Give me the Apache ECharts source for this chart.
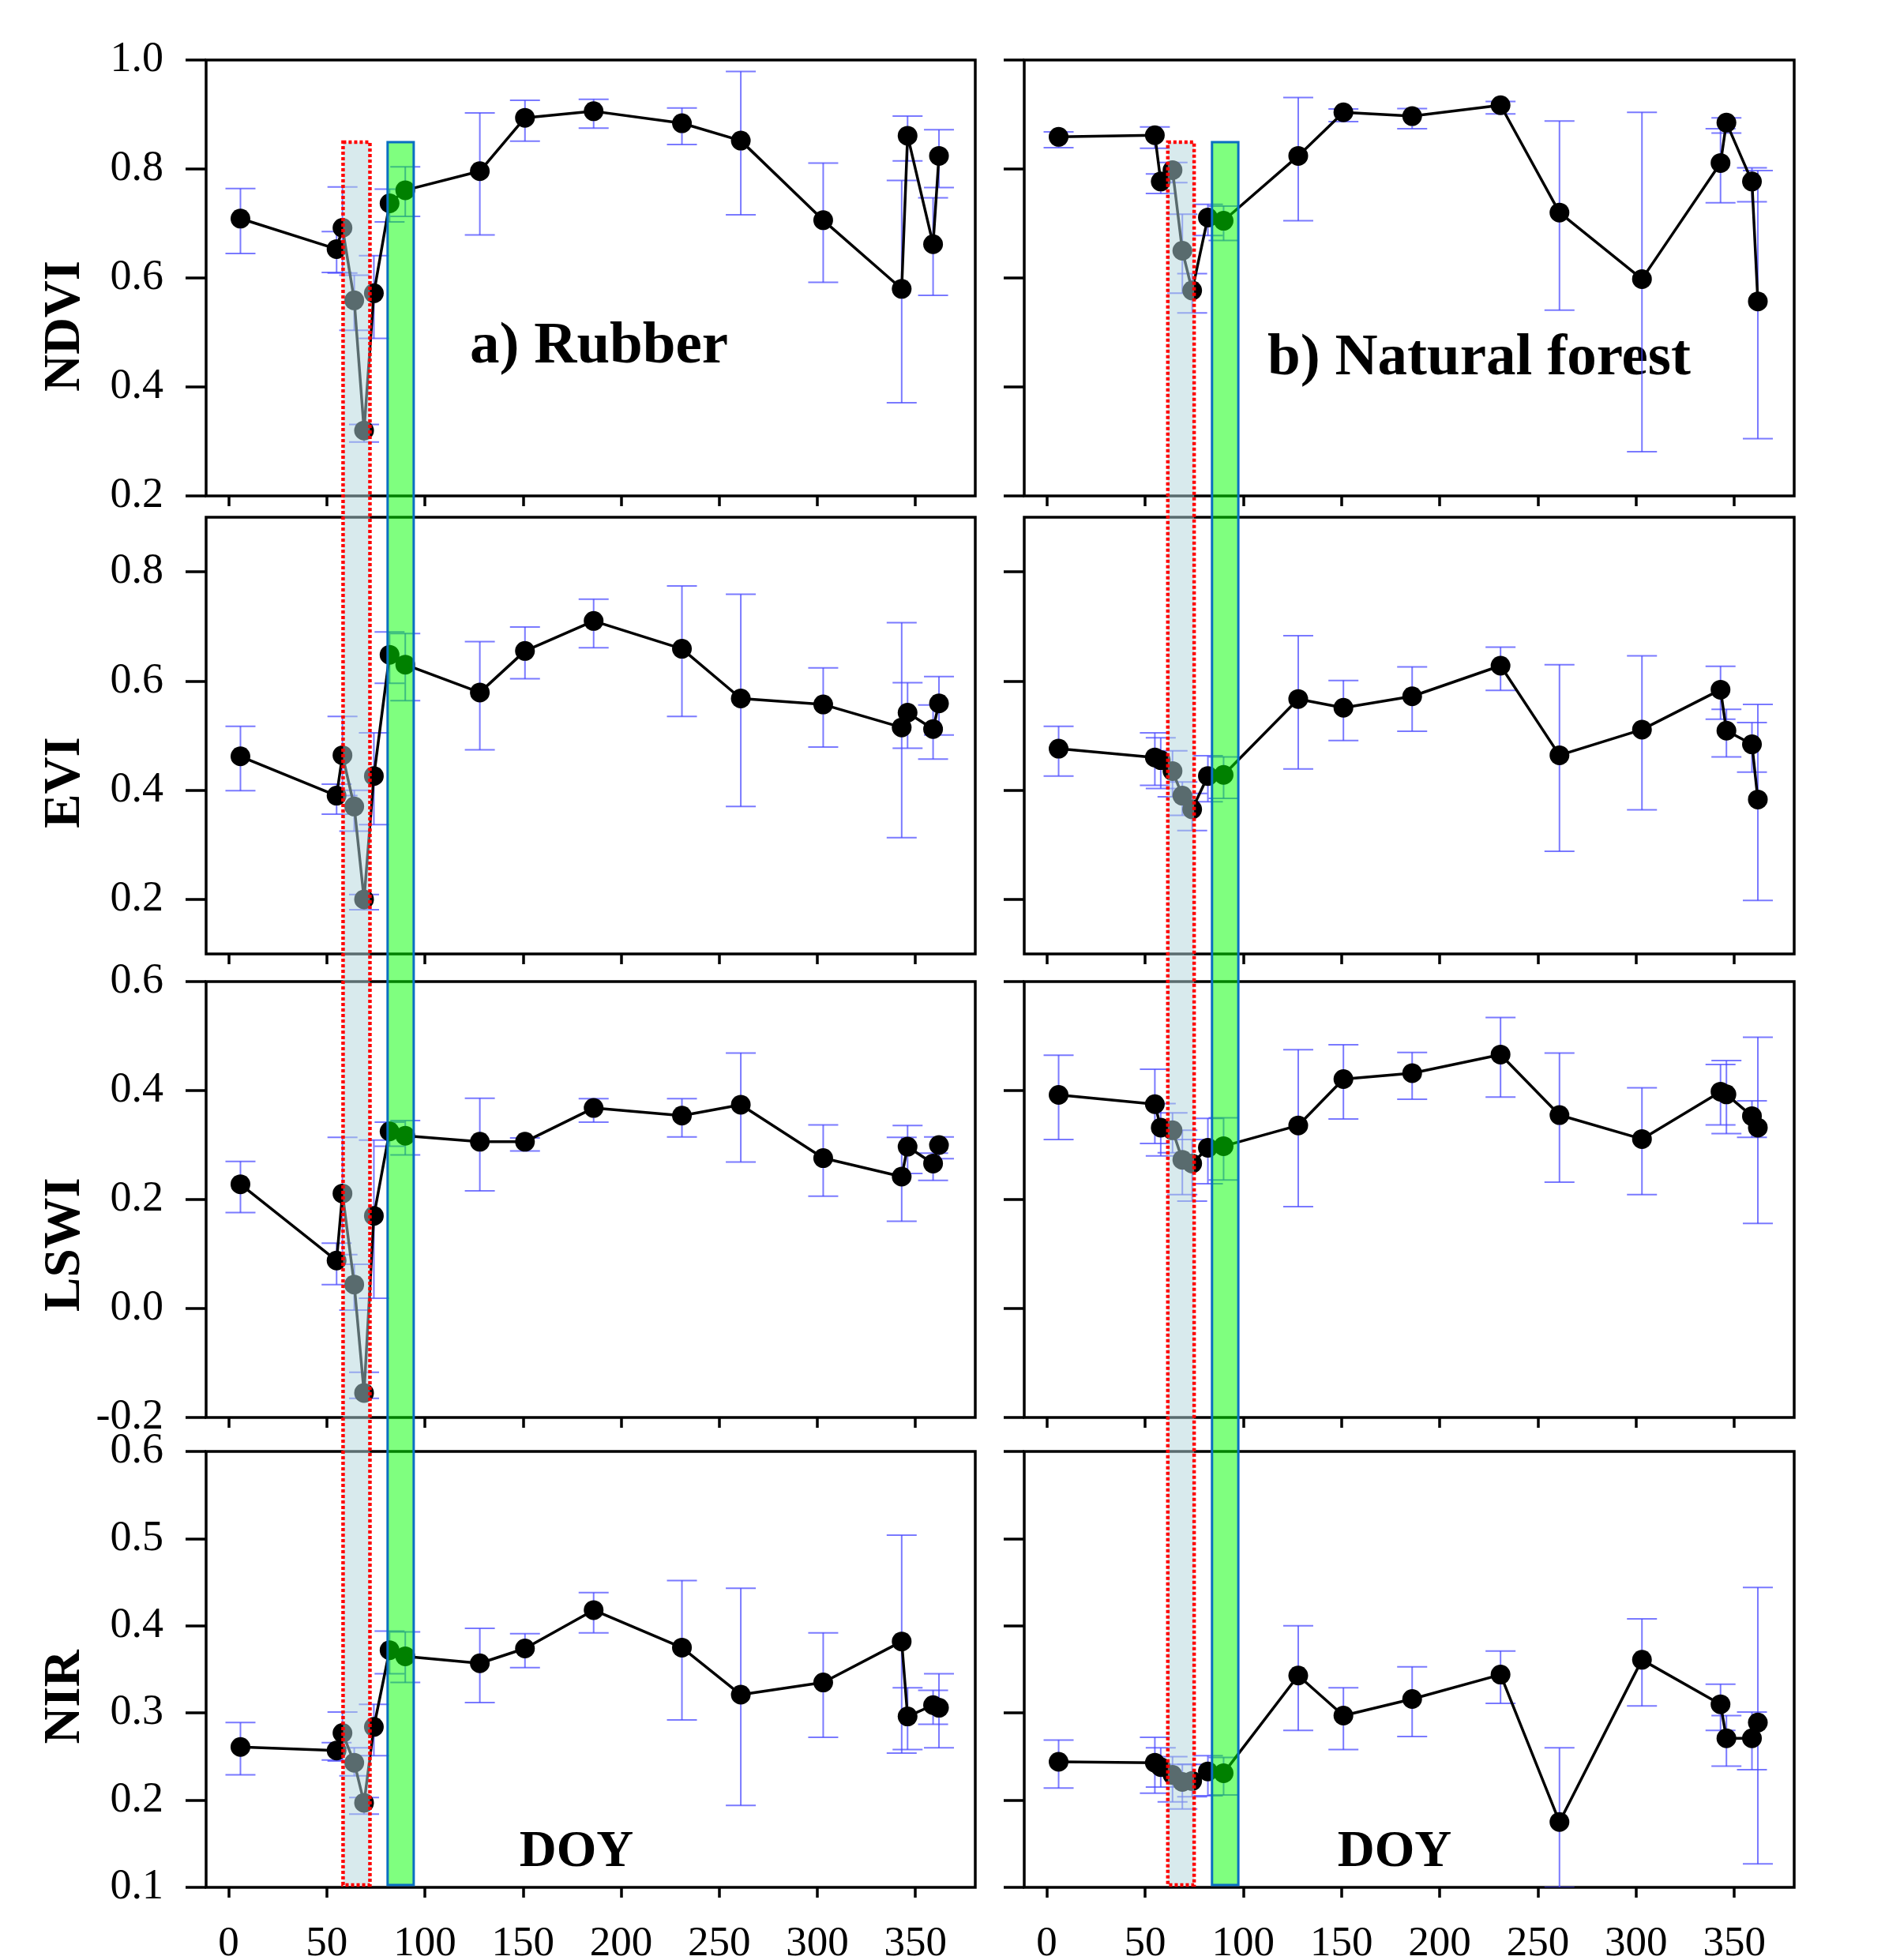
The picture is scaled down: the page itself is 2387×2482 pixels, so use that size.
<!DOCTYPE html>
<html>
<head>
<meta charset="utf-8">
<script src="https://cdn.jsdelivr.net/npm/echarts@6/dist/echarts.min.js"></script>
<style>
  html, body { margin: 0; padding: 0; background: #fff; }
  #chart { width: 2387px; height: 2482px; }
</style>
</head>
<body>
<div id="chart"></div>
<script>
// day of year of each scene (same for both panels)
const doy = [6, 55, 58, 64, 69, 74, 82, 90, 128, 151, 186, 231, 261, 303, 343, 346, 359, 362];

const xTicks = [0, 50, 100, 150, 200, 250, 300, 350];
const ndviTicks = [0.2, 0.4, 0.6, 0.8, 1.0];
const eviTicks = [0.2, 0.4, 0.6, 0.8];
const lswiTicks = [-0.2, 0.0, 0.2, 0.4, 0.6];
const nirTicks = [0.1, 0.2, 0.3, 0.4, 0.5, 0.6];

// a) Rubber
const rubberNdvi   = [0.709, 0.653, 0.692, 0.559, 0.320, 0.572, 0.737, 0.761, 0.796, 0.894, 0.906, 0.884, 0.852, 0.706, 0.580, 0.861, 0.662, 0.824];
const rubberNdviLo = [0.645, 0.610, 0.609, 0.504, 0.299, 0.489, 0.703, 0.713, 0.679, 0.851, 0.875, 0.845, 0.716, 0.592, 0.371, 0.815, 0.568, 0.766];
const rubberNdviHi = [0.764, 0.685, 0.767, 0.605, 0.331, 0.641, 0.763, 0.804, 0.903, 0.926, 0.928, 0.912, 0.979, 0.811, 0.779, 0.897, 0.747, 0.872];

const rubberEvi   = [0.462, 0.390, 0.464, 0.370, 0.200, 0.426, 0.648, 0.630, 0.579, 0.655, 0.710, 0.659, 0.568, 0.557, 0.515, 0.542, 0.512, 0.559];
const rubberEviLo = [0.399, 0.356, 0.390, 0.325, 0.181, 0.337, 0.596, 0.564, 0.474, 0.604, 0.661, 0.535, 0.370, 0.479, 0.313, 0.477, 0.457, 0.501];
const rubberEviHi = [0.517, 0.411, 0.535, 0.400, 0.209, 0.505, 0.690, 0.687, 0.672, 0.699, 0.750, 0.774, 0.759, 0.624, 0.707, 0.597, 0.556, 0.608];

const rubberLswi   = [0.228, 0.088, 0.211, 0.044, -0.155, 0.170, 0.325, 0.317, 0.306, 0.306, 0.368, 0.354, 0.374, 0.276, 0.242, 0.297, 0.266, 0.300];
const rubberLswiLo = [0.176, 0.044, 0.099, -0.003, -0.165, 0.019, 0.298, 0.282, 0.216, 0.289, 0.342, 0.315, 0.269, 0.206, 0.160, 0.248, 0.235, 0.275];
const rubberLswiHi = [0.270, 0.120, 0.314, 0.081, -0.117, 0.309, 0.342, 0.345, 0.386, 0.313, 0.385, 0.385, 0.469, 0.337, 0.314, 0.336, 0.285, 0.315];

const rubberNir   = [0.261, 0.257, 0.277, 0.243, 0.197, 0.284, 0.372, 0.365, 0.357, 0.374, 0.418, 0.375, 0.321, 0.335, 0.382, 0.296, 0.309, 0.306];
const rubberNirLo = [0.229, 0.246, 0.245, 0.228, 0.184, 0.251, 0.345, 0.335, 0.312, 0.352, 0.392, 0.292, 0.194, 0.272, 0.254, 0.258, 0.287, 0.260];
const rubberNirHi = [0.289, 0.266, 0.301, 0.260, 0.203, 0.310, 0.394, 0.393, 0.397, 0.391, 0.438, 0.452, 0.443, 0.392, 0.504, 0.329, 0.326, 0.345];

// b) Natural forest
const forestNdvi   = [0.859, 0.862, 0.777, 0.798, 0.650, 0.577, 0.711, 0.705, 0.824, 0.904, 0.897, 0.917, 0.720, 0.598, 0.811, 0.885, 0.777, 0.557];
const forestNdviLo = [0.839, 0.838, 0.755, 0.775, 0.572, 0.536, 0.678, 0.669, 0.705, 0.887, 0.874, 0.901, 0.541, 0.281, 0.738, 0.866, 0.740, 0.305];
const forestNdviHi = [0.868, 0.877, 0.791, 0.812, 0.717, 0.608, 0.735, 0.732, 0.931, 0.910, 0.911, 0.924, 0.888, 0.904, 0.874, 0.894, 0.802, 0.797];

const forestEvi   = [0.476, 0.460, 0.455, 0.435, 0.390, 0.365, 0.426, 0.428, 0.567, 0.551, 0.572, 0.628, 0.464, 0.511, 0.584, 0.509, 0.484, 0.383];
const forestEviLo = [0.426, 0.409, 0.403, 0.388, 0.354, 0.326, 0.379, 0.385, 0.439, 0.491, 0.508, 0.583, 0.288, 0.364, 0.530, 0.461, 0.433, 0.198];
const forestEviHi = [0.517, 0.505, 0.496, 0.472, 0.415, 0.394, 0.463, 0.461, 0.683, 0.601, 0.626, 0.662, 0.630, 0.646, 0.627, 0.548, 0.524, 0.557];

const forestLswi   = [0.392, 0.375, 0.332, 0.327, 0.273, 0.266, 0.295, 0.298, 0.336, 0.421, 0.432, 0.466, 0.355, 0.311, 0.398, 0.393, 0.353, 0.332];
const forestLswiLo = [0.310, 0.303, 0.280, 0.286, 0.209, 0.197, 0.229, 0.236, 0.187, 0.348, 0.384, 0.388, 0.232, 0.209, 0.337, 0.321, 0.314, 0.156];
const forestLswiHi = [0.465, 0.439, 0.376, 0.359, 0.327, 0.310, 0.349, 0.350, 0.475, 0.484, 0.470, 0.534, 0.469, 0.405, 0.448, 0.455, 0.381, 0.498];

const forestNir   = [0.244, 0.243, 0.238, 0.229, 0.221, 0.222, 0.233, 0.231, 0.343, 0.297, 0.316, 0.344, 0.175, 0.361, 0.310, 0.271, 0.271, 0.289];
const forestNirLo = [0.214, 0.208, 0.215, 0.198, 0.190, 0.204, 0.205, 0.206, 0.280, 0.258, 0.273, 0.311, 0.100, 0.308, 0.280, 0.239, 0.235, 0.127];
const forestNirHi = [0.269, 0.272, 0.260, 0.250, 0.241, 0.241, 0.251, 0.249, 0.400, 0.329, 0.353, 0.371, 0.260, 0.408, 0.333, 0.297, 0.301, 0.444];

// shaded DOY windows [start, end, kind] kind 0 = defoliation, 1 = green-up
const rubberBands = [[58.3, 72.0, 0], [81.0, 94.3, 1]];
const forestBands = [[61.6, 75.0, 0], [84.1, 97.5, 1]];

const rowNames = ["NDVI", "EVI", "LSWI", "NIR"];
const rowAxes = [
  { min: 0.2, max: 1.0, ticks: ndviTicks },
  { min: 0.1, max: 0.9, ticks: eviTicks },
  { min: -0.2, max: 0.6, ticks: lswiTicks },
  { min: 0.1, max: 0.6, ticks: nirTicks }
];
const panels = [
  [rubberNdvi, rubberNdviLo, rubberNdviHi], [forestNdvi, forestNdviLo, forestNdviHi],
  [rubberEvi, rubberEviLo, rubberEviHi],    [forestEvi, forestEviLo, forestEviHi],
  [rubberLswi, rubberLswiLo, rubberLswiHi], [forestLswi, forestLswiLo, forestLswiHi],
  [rubberNir, rubberNirLo, rubberNirHi],    [forestNir, forestNirLo, forestNirHi]
];

const rowTop = [76, 655, 1243, 1838];
const rowHeight = [552, 553, 552, 552];
const colLeft = [261, 1297];
const colWidth = [974, 975];
const xMin = -11.5;
const xMax = 380.5;
const serif = "Liberation Serif";

function renderErrorBar(params, api) {
  const x = api.value(0);
  const lo = api.coord([x, api.value(1)]);
  const hi = api.coord([x, api.value(2)]);
  const half = 19;
  const style = { stroke: "rgba(70, 70, 255, 0.72)", lineWidth: 2, fill: null };
  return {
    type: "group",
    children: [
      { type: "line", shape: { x1: hi[0], y1: hi[1], x2: lo[0], y2: lo[1] }, style: style },
      { type: "line", shape: { x1: hi[0] - half, y1: hi[1], x2: hi[0] + half, y2: hi[1] }, style: style },
      { type: "line", shape: { x1: lo[0] - half, y1: lo[1], x2: lo[0] + half, y2: lo[1] }, style: style }
    ]
  };
}

function renderBand(params, api) {
  const p0 = api.coord([api.value(0), 1]);
  const p1 = api.coord([api.value(1), 0]);
  const shape = { x: p0[0], y: p0[1], width: p1[0] - p0[0], height: p1[1] - p0[1] };
  if (api.value(2) === 0) {
    return {
      type: "group",
      children: [
        { type: "rect", shape: shape, style: { fill: "rgba(178, 214, 220, 0.5)", stroke: null } },
        { type: "rect", shape: shape, style: { fill: null, stroke: "#ff0000", lineWidth: 4.5, lineDash: [4, 3] } }
      ]
    };
  }
  return {
    type: "rect",
    shape: shape,
    style: { fill: "rgba(0, 255, 0, 0.5)", stroke: "#0a6fc2", lineWidth: 3 }
  };
}

const grids = [];
const xAxes = [];
const yAxes = [];
const series = [];

panels.forEach(function (p, i) {
  const row = Math.floor(i / 2);
  const col = i % 2;
  const ax = rowAxes[row];
  grids.push({
    left: colLeft[col], top: rowTop[row], width: colWidth[col], height: rowHeight[row],
    show: true, borderColor: "#000", borderWidth: 3.5, backgroundColor: "transparent",
    outerBoundsMode: "none", containLabel: false
  });
  xAxes.push({
    gridIndex: i, type: "value", min: xMin, max: xMax,
    axisLine: { show: false, onZero: false },
    splitLine: { show: false },
    axisTick: { show: true, customValues: xTicks, length: 13, lineStyle: { color: "#000", width: 3.5 } },
    axisLabel: {
      show: row === 3, customValues: xTicks, margin: 46,
      fontFamily: serif, fontSize: 53, color: "#000"
    }
  });
  yAxes.push({
    gridIndex: i, type: "value", min: ax.min, max: ax.max,
    axisLine: { show: false, onZero: false },
    splitLine: { show: false },
    axisTick: { show: true, customValues: ax.ticks, length: 26, lineStyle: { color: "#000", width: 3.5 } },
    axisLabel: {
      show: col === 0, customValues: ax.ticks, margin: 54,
      fontFamily: serif, fontSize: 54, color: "#000",
      formatter: function (v) { return Number(v).toFixed(1); }
    }
  });
  series.push({
    type: "custom", xAxisIndex: i, yAxisIndex: i, z: 2, clip: true,
    renderItem: renderErrorBar,
    encode: { x: 0, y: [1, 2] },
    data: doy.map(function (d, k) { return [d, p[1][k], p[2][k]]; })
  });
  series.push({
    type: "line", xAxisIndex: i, yAxisIndex: i, z: 3,
    symbol: "circle", symbolSize: 25,
    itemStyle: { color: "#000" },
    lineStyle: { color: "#000", width: 3.5 },
    data: doy.map(function (d, k) { return [d, p[0][k]]; })
  });
});

// overlay grids for the shaded windows spanning all four rows
[rubberBands, forestBands].forEach(function (bands, col) {
  const gi = grids.length;
  grids.push({
    left: colLeft[col], top: 180, width: colWidth[col], height: 2207,
    show: false, outerBoundsMode: "none", containLabel: false
  });
  xAxes.push({ gridIndex: gi, type: "value", min: xMin, max: xMax, show: false });
  yAxes.push({ gridIndex: gi, type: "value", min: 0, max: 1, show: false });
  series.push({
    type: "custom", xAxisIndex: gi, yAxisIndex: gi, z: 20,
    renderItem: renderBand,
    encode: { x: [0, 1], y: 2 },
    data: bands
  });
});

const labelCenters = [413, 991, 1576, 2149];
const graphics = rowNames.map(function (name, r) {
  return {
    type: "text", x: 83, y: labelCenters[r], rotation: Math.PI / 2,
    style: { text: name, font: "bold 65px \"" + serif + "\"", fill: "#000", align: "center", verticalAlign: "middle" }
  };
});
graphics.push(
  { type: "text", x: 595, y: 440, style: { text: "a) Rubber", font: "bold 75px \"" + serif + "\"", fill: "#000", align: "left", verticalAlign: "middle" } },
  { type: "text", x: 1605, y: 455, style: { text: "b) Natural forest", font: "bold 75px \"" + serif + "\"", fill: "#000", align: "left", verticalAlign: "middle" } },
  { type: "text", x: 730, y: 2346, style: { text: "DOY", font: "bold 65px \"" + serif + "\"", fill: "#000", align: "center", verticalAlign: "middle" } },
  { type: "text", x: 1766, y: 2346, style: { text: "DOY", font: "bold 65px \"" + serif + "\"", fill: "#000", align: "center", verticalAlign: "middle" } }
);

const chart = echarts.init(document.getElementById("chart"), null, { renderer: "canvas" });
chart.setOption({
  animation: false,
  backgroundColor: "#fff",
  grid: grids,
  xAxis: xAxes,
  yAxis: yAxes,
  series: series,
  graphic: graphics
});
</script>
</body>
</html>
